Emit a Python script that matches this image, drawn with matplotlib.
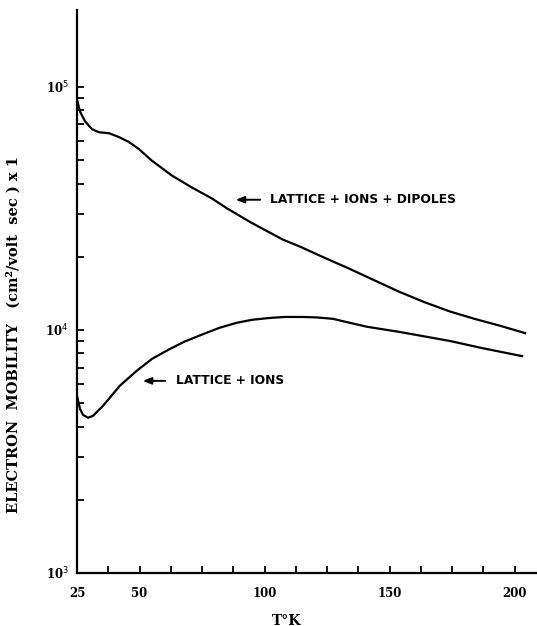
import numpy as np
import matplotlib
matplotlib.use('Agg')
import matplotlib.pyplot as plt
from matplotlib.ticker import FixedLocator, NullFormatter

# values (T in K, mobility in cm^2/volt sec)
t_dip = [25, 26.2, 28.2, 31, 33.8, 37.8, 41.8, 45.8, 49.8, 55, 63, 71, 79, 85, 95, 107.4,
         114.2, 124, 134.2, 142.2, 154.2, 164, 174.2, 184, 194.2, 204.2]
mu_dip = [8.86e4, 7.91e4, 7.21e4, 6.69e4, 6.5e4, 6.44e4, 6.21e4, 5.92e4, 5.54e4, 4.96e4, 4.31e4,
          3.85e4, 3.47e4, 3.16e4, 2.75e4, 2.35e4, 2.2e4, 1.98e4, 1.78e4, 1.63e4, 1.43e4, 1.3e4,
          1.19e4, 1.11e4, 1.04e4, 9.7e3]

t_ion = [25, 26.2, 27.4, 29.4, 31.4, 35.4, 42.2, 49, 55, 62.2, 68, 75.4, 82, 89, 95, 102.2, 108,
         115.4, 121, 127.4, 134, 141, 154.2, 164, 174.2, 187.4, 203]
mu_ion = [5.35e3, 4.73e3, 4.47e3, 4.35e3, 4.43e3, 4.87e3, 5.9e3, 6.8e3, 7.6e3, 8.35e3, 8.95e3,
          9.6e3, 1.02e4, 1.07e4, 1.1e4, 1.12e4, 1.13e4, 1.13e4, 1.125e4, 1.11e4, 1.07e4, 1.03e4,
          9.8e3, 9.4e3, 9.0e3, 8.4e3, 7.8e3]

x_major = [25, 50, 100, 150, 200]
x_minor = [37.5, 62.5, 75, 87.5, 112.5, 125, 137.5, 162.5, 175, 187.5]
y_major = [1e3, 1e4, 1e5]
y_labels = ['10$^{3}$', '10$^{4}$', '10$^{5}$']

fig = plt.figure(figsize=(5.37, 6.26), dpi=100)
ax = fig.add_axes([0.1434, 0.0847, 0.8566, 0.8994])

ax.plot(t_dip, mu_dip, color='black', lw=1.6)
ax.plot(t_ion, mu_ion, color='black', lw=1.6)

ax.set_yscale('log')
ax.set_xlim(25, 209)
ax.set_ylim(1e3, 2.07e5)

ax.xaxis.set_major_locator(FixedLocator(x_major))
ax.xaxis.set_minor_locator(FixedLocator(x_minor))
ax.set_xticklabels([str(v) for v in x_major], fontfamily='DejaVu Serif',
                   fontweight='bold', fontsize=8.5)

minors = [m * d for d in (1e3, 1e4) for m in range(2, 10)]
ax.yaxis.set_major_locator(FixedLocator(y_major))
ax.yaxis.set_minor_locator(FixedLocator(minors))
ax.yaxis.set_minor_formatter(NullFormatter())
ax.set_yticklabels(y_labels, fontfamily='DejaVu Serif', fontweight='bold', fontsize=8.5)

ax.tick_params(which='both', direction='in', length=5, width=1.3, color='black')
ax.tick_params(axis='x', pad=10)
ax.tick_params(axis='y', pad=6)

for s in ['top', 'right']:
    ax.spines[s].set_visible(False)
for s in ['left', 'bottom']:
    ax.spines[s].set_linewidth(1.6)

ax.set_xlabel('T°K', fontfamily='DejaVu Serif', fontweight='bold', fontsize=10)
ax.xaxis.set_label_coords(0.455, -0.072)
ax.set_ylabel('ELECTRON  MOBILITY   (cm²/volt  sec ) x 1', fontfamily='DejaVu Serif',
              fontweight='bold', fontsize=10.5)
ax.yaxis.set_label_coords(-0.122, 0.423)

arrow = dict(arrowstyle='-|>,head_length=0.5,head_width=0.2', color='black', lw=1.4)
ax.annotate('', xy=(87.4, 3.43e4), xytext=(99.4, 3.43e4), arrowprops=arrow)
ax.text(102.2, 3.43e4, 'LATTICE + IONS + DIPOLES', fontsize=8.8, fontweight='bold',
        va='center', ha='left')
ax.annotate('', xy=(50.2, 6.17e3), xytext=(61.4, 6.17e3), arrowprops=arrow)
ax.text(64.6, 6.17e3, 'LATTICE + IONS', fontsize=8.8, fontweight='bold',
        va='center', ha='left')

fig.savefig('out.png', dpi=100)
